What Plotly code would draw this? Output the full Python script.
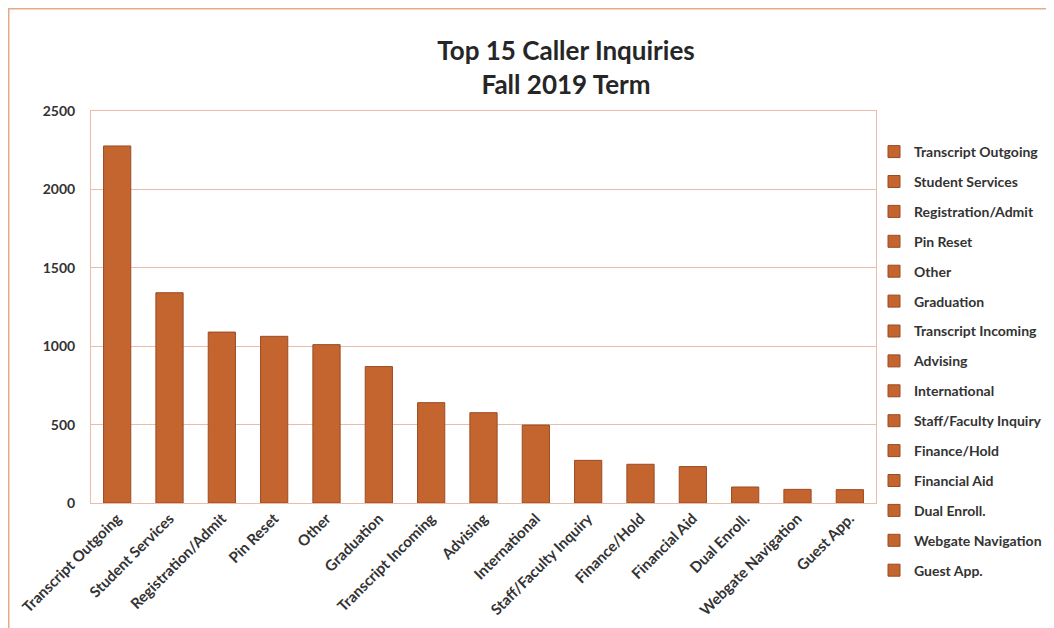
import plotly.graph_objects as go

categories = ["Transcript Outgoing", "Student Services", "Registration/Admit", "Pin Reset",
              "Other", "Graduation", "Transcript Incoming", "Advising", "International",
              "Staff/Faculty Inquiry", "Finance/Hold", "Financial Aid", "Dual Enroll.",
              "Webgate Navigation", "Guest App."]
values = [2277, 1341, 1090, 1063, 1010, 870, 640, 576, 497, 272, 247, 232, 102, 87, 85]
y_ticks = [0, 500, 1000, 1500, 2000, 2500]

BAR = "#C4652F"
EDGE = "#9C4B22"
GRID = "#E9BDAA"
FONT = "Lato"

# plot area in figure pixels
L, R, T, B = 83, 868, 103, 495
W, H = 1054, 628
PW, PH = R - L, B - T


def px_x(p):
    return (p - L) / PW


def px_y(p):
    return (B - p) / PH


fig = go.Figure()
for c, v in zip(categories, values):
    fig.add_trace(go.Bar(
        x=[c], y=[v], name=c, legendgroup=c,
        width=0.52,
        marker=dict(color=BAR, line=dict(color=EDGE, width=1)),
    ))

fig.update_layout(
    width=W, height=H,
    paper_bgcolor="white", plot_bgcolor="white",
    margin=dict(l=L, r=W - R, t=T, b=H - B, autoexpand=False),
    barmode="overlay",
    title=dict(text="<b>Top 15 Caller Inquiries<br>Fall 2019 Term</b>",
               x=558 / W, xanchor="center", y=1 - 52 / H, yanchor="middle",
               font=dict(family=FONT, size=26, color="#262626")),
    font=dict(family=FONT, color="#333333"),
    legend=dict(x=px_x(866), xanchor="left", y=px_y(128), yanchor="top",
                font=dict(family=FONT, size=14, color="#333333", weight="bold"),
                tracegroupgap=8.7, bgcolor="rgba(0,0,0,0)", maxheight=620),
    xaxis=dict(type="category", categoryorder="array", categoryarray=categories,
               tickangle=-45, tickfont=dict(family=FONT, size=15, color="#333333", weight="bold"),
               showline=True, linecolor=GRID, linewidth=1, mirror=True,
               ticks="", showgrid=False, automargin=False),
    yaxis=dict(range=[0, 2500], tickvals=y_ticks, showgrid=True, gridcolor=GRID, gridwidth=1,
               tickfont=dict(family=FONT, size=14, color="#333333", weight="bold"),
               showline=True, linecolor=GRID, linewidth=1, mirror=True,
               ticks="", ticklabelstandoff=12, zeroline=False, automargin=False),
    shapes=[dict(type="rect", xref="paper", yref="paper",
                 x0=px_x(0.75), x1=px_x(1070),
                 y0=px_y(650), y1=px_y(0.75),
                 line=dict(color="#E8A98A", width=1.5), fillcolor="rgba(0,0,0,0)", layer="below")],
)

fig.write_html("out.html")
